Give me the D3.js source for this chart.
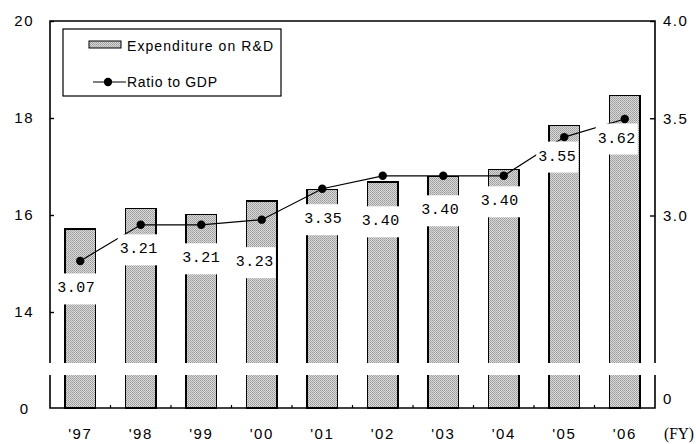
<!DOCTYPE html>
<html>
<head>
<meta charset="utf-8">
<script src="https://cdn.jsdelivr.net/npm/d3@7"></script>
<style>
  html, body { margin: 0; padding: 0; background: #fff; }
  svg { display: block; }
</style>
</head>
<body>
<svg id="chart" width="696" height="444"></svg>
<script>
// Fiscal years, R&D expenditure (trillion yen) and its ratio to GDP (%)
const years = ["'97", "'98", "'99", "'00", "'01", "'02", "'03", "'04", "'05", "'06"];
const expenditure = [15.71, 16.13, 16.01, 16.29, 16.53, 16.68, 16.80, 16.94, 17.85, 18.46];
const ratioToGDP = [3.07, 3.21, 3.21, 3.23, 3.35, 3.40, 3.40, 3.40, 3.55, 3.62];
const leftTicks = [14, 16, 18, 20];
const rightTicks = [3.0, 3.5, 4.0];

// Where each ratio label sits relative to its point (dx, dy)
const labelOffsets = [[-4, 28], [-2, 25], [0, 34], [-7, 43], [1, 31], [-2, 46], [-3, 35], [-4, 26], [-7, 20], [-8, 20]];

const plot = { left: 50, right: 655, top: 21, bottom: 408 };
const gap = { top: 363, bottom: 375 };   // axis break band

const svg = d3.select("#chart");

// stippled grey fill for the bars
const pat = svg.append("defs").append("pattern")
  .attr("id", "stipple").attr("width", 2).attr("height", 2)
  .attr("patternUnits", "userSpaceOnUse");
pat.append("rect").attr("width", 2).attr("height", 2).attr("fill", "#dadada");
pat.append("rect").attr("width", 1).attr("height", 1).attr("fill", "#9a9a9a");
pat.append("rect").attr("x", 1).attr("y", 1).attr("width", 1).attr("height", 1).attr("fill", "#a8a8a8");

const x = d3.scaleBand().domain(years).range([plot.left, plot.right])
  .paddingInner(0.5).paddingOuter(0.25);
const yBar = d3.scaleLinear().domain([14, 20]).range([312, plot.top]);
const yRight = d3.scaleLinear().domain([3.0, 4.0]).range([215.5, plot.top]);
const yLine = d3.scaleLinear().domain([2.5, 4.0]).range([plot.bottom, plot.top]);

const data = years.map((yr, i) => ({ year: yr, exp: expenditure[i], ratio: ratioToGDP[i], off: labelOffsets[i] }));
const cx = d => x(d.year) + x.bandwidth() / 2;

// bars
svg.append("g").selectAll("rect").data(data).join("rect")
  .attr("x", d => x(d.year))
  .attr("y", d => yBar(d.exp))
  .attr("width", x.bandwidth())
  .attr("height", d => plot.bottom - yBar(d.exp))
  .attr("fill", "url(#stipple)")
  .attr("stroke", "#000")
  .attr("stroke-width", 1.3)
  .attr("shape-rendering", "crispEdges");

// frame
svg.append("path")
  .attr("d", `M${plot.left},${plot.top}H${plot.right}V${plot.bottom}H${plot.left}Z`)
  .attr("fill", "none").attr("stroke", "#000").attr("stroke-width", 1.6);

const tickFont = g => g.selectAll("text")
  .attr("font-family", "'Liberation Sans', Arial, sans-serif")
  .attr("font-size", 15).attr("letter-spacing", "1.5px").attr("fill", "#000");

// left axis (expenditure)
svg.append("g").attr("transform", `translate(${plot.left},0)`)
  .call(d3.axisLeft(yBar).tickValues(leftTicks).tickFormat(d3.format("d"))
    .tickSizeInner(-4).tickSizeOuter(0).tickPadding(16))
  .call(g => g.select(".domain").remove())
  .call(g => g.selectAll("line").attr("stroke", "#000").attr("stroke-width", 1.4))
  .call(tickFont);

// right axis (ratio)
svg.append("g").attr("transform", `translate(${plot.right},0)`)
  .call(d3.axisRight(yRight).tickValues(rightTicks).tickFormat(d3.format(".1f"))
    .tickSizeInner(-5).tickSizeOuter(0).tickPadding(8))
  .call(g => g.select(".domain").remove())
  .call(g => g.selectAll("line").attr("stroke", "#000").attr("stroke-width", 1.4))
  .call(tickFont);

// zero labels below the break
svg.append("text").text("0").attr("x", 28).attr("y", plot.bottom + 2)
  .attr("text-anchor", "end").attr("dominant-baseline", "middle")
  .attr("font-family", "'Liberation Sans', Arial, sans-serif").attr("font-size", 15);
svg.append("text").text("0").attr("x", plot.right + 8).attr("y", plot.bottom - 8)
  .attr("dominant-baseline", "middle")
  .attr("font-family", "'Liberation Sans', Arial, sans-serif").attr("font-size", 15);

// axis break band
svg.append("rect").attr("x", 40).attr("y", gap.top)
  .attr("width", plot.right - 40 + 10).attr("height", gap.bottom - gap.top)
  .attr("fill", "#fff");

// bottom axis labels
svg.append("g").attr("transform", `translate(0,${plot.bottom})`)
  .call(d3.axisBottom(x).tickSize(0).tickPadding(20))
  .call(g => g.select(".domain").remove())
  .call(tickFont);

// small ticks between bars
const half = (x.step() - x.bandwidth()) / 2;
svg.append("g").selectAll("line").data(years.slice(1)).join("line")
  .attr("x1", d => x(d) - half).attr("x2", d => x(d) - half)
  .attr("y1", plot.bottom).attr("y2", plot.bottom - 3)
  .attr("stroke", "#000").attr("stroke-width", 1.2);

svg.append("text").text("(FY)")
  .attr("x", 664).attr("y", 439)
  .attr("textLength", 30).attr("lengthAdjust", "spacingAndGlyphs")
  .attr("font-family", "'Liberation Serif', 'Times New Roman', serif")
  .attr("font-size", 16);

// ratio line
svg.append("path").datum(data)
  .attr("d", d3.line().x(cx).y(d => yLine(d.ratio)))
  .attr("fill", "none").attr("stroke", "#000").attr("stroke-width", 1.2);

// value labels with white backing
const lab = svg.append("g").selectAll("g").data(data).join("g")
  .attr("transform", d => `translate(${cx(d) + d.off[0]},${yLine(d.ratio) + d.off[1]})`);
lab.append("rect").attr("x", -21).attr("y", -15.5).attr("width", 42).attr("height", 31).attr("fill", "#fff");

// points
svg.append("g").selectAll("circle").data(data).join("circle")
  .attr("cx", cx).attr("cy", d => yLine(d.ratio)).attr("r", 4.2).attr("fill", "#000");

lab.append("text").text(d => d.ratio.toFixed(2))
  .attr("text-anchor", "middle").attr("dominant-baseline", "central")
  .attr("font-family", "'Liberation Mono', 'DejaVu Sans Mono', monospace")
  .attr("font-size", 15).attr("letter-spacing", "0.5px");

// legend
const lg = svg.append("g");
lg.append("rect").attr("x", 63).attr("y", 29).attr("width", 218).attr("height", 67)
  .attr("fill", "#fff").attr("stroke", "#000").attr("stroke-width", 1.2);
lg.append("rect").attr("x", 89).attr("y", 41).attr("width", 32).attr("height", 7)
  .attr("fill", "url(#stipple)").attr("stroke", "#000").attr("stroke-width", 1);
lg.append("text").text("Expenditure on R&D").attr("x", 127).attr("y", 46)
  .attr("dominant-baseline", "central").attr("textLength", 146).attr("lengthAdjust", "spacing")
  .attr("font-family", "'Liberation Sans', Arial, sans-serif").attr("font-size", 14);
lg.append("line").attr("x1", 93).attr("x2", 126).attr("y1", 82).attr("y2", 82)
  .attr("stroke", "#000").attr("stroke-width", 1.2);
lg.append("circle").attr("cx", 108).attr("cy", 82).attr("r", 4.2).attr("fill", "#000");
lg.append("text").text("Ratio to GDP").attr("x", 127).attr("y", 82)
  .attr("dominant-baseline", "central").attr("textLength", 90).attr("lengthAdjust", "spacing")
  .attr("font-family", "'Liberation Sans', Arial, sans-serif").attr("font-size", 14);
</script>
</body>
</html>
